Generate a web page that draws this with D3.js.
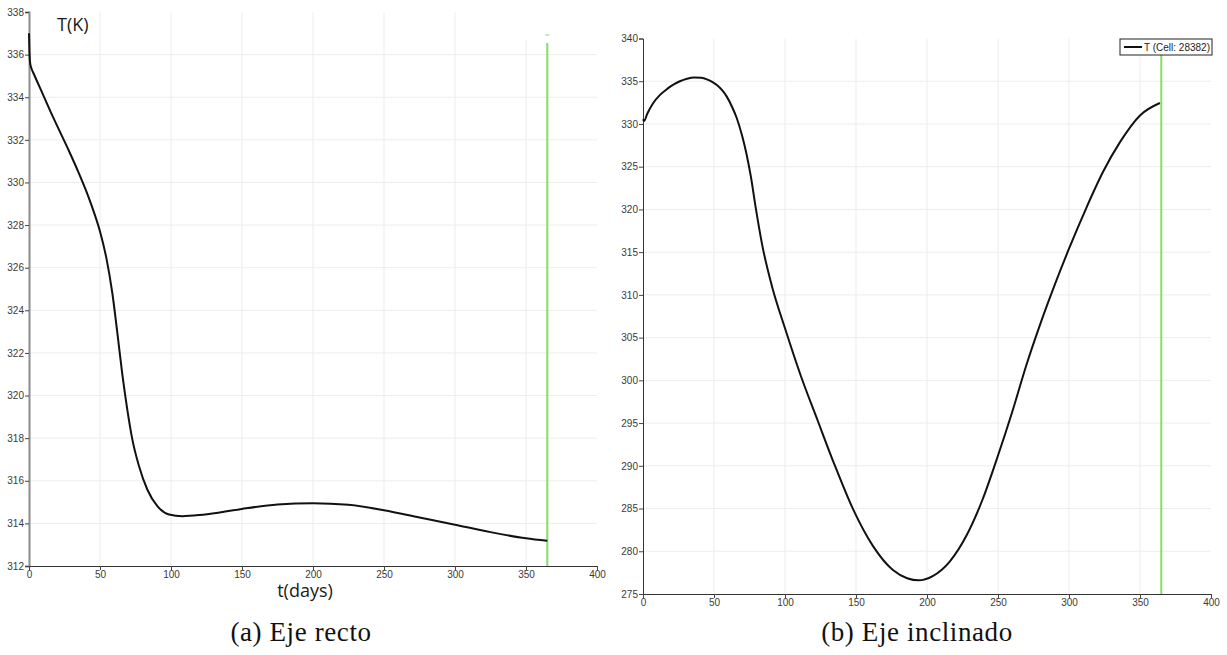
<!DOCTYPE html>
<html>
<head>
<meta charset="utf-8">
<script src="https://cdn.jsdelivr.net/npm/d3@7"></script>
<style>
  body { margin: 0; background: #fff; }
  svg { display: block; }
  .tick text { font-family: "Liberation Sans", Arial, sans-serif; font-size: 10px; fill: #3a3a3a; }
</style>
</head>
<body>
<div id="chart"></div>
<script>
// Left panel: straight axis (Eje recto)
const daysA = [0, 0.3, 0.8, 2, 3, 8, 15, 22, 28, 35, 42, 46, 50, 54.5, 58.7, 62.2, 65.7, 69.2, 72.8, 77.5, 83.3, 90.4, 98.6, 108, 120, 135, 150, 175, 200, 225, 250, 275, 300, 325, 350, 365];
const tempA = [337.0, 336.2, 335.6, 335.3, 335.15, 334.4, 333.35, 332.35, 331.5, 330.45, 329.3, 328.55, 327.7, 326.45, 324.8, 322.95, 321.0, 319.35, 317.93, 316.68, 315.59, 314.81, 314.42, 314.34, 314.39, 314.52, 314.68, 314.89, 314.95, 314.87, 314.62, 314.28, 313.94, 313.59, 313.3, 313.18];

// Right panel: inclined axis (Eje inclinado)
const daysB = [0, 0.8, 3, 7, 12, 17, 22, 26, 31, 36, 41, 45, 49, 52, 56, 59, 63, 66, 70, 73, 76, 79, 84, 91, 100, 111, 123, 134, 148, 162, 176, 186, 194, 204, 216, 228, 239, 250, 260, 270, 280, 290, 300, 312, 324, 336, 350, 364];
const tempB = [330.55, 330.35, 331.2, 332.4, 333.4, 334.1, 334.65, 335.0, 335.3, 335.45, 335.4, 335.22, 334.9, 334.55, 333.9, 333.2, 331.9, 330.7, 328.5, 326.4, 323.8, 320.6, 315.8, 310.9, 306.1, 300.6, 295.3, 290.5, 284.9, 280.6, 277.8, 276.85, 276.6, 277.1, 278.8, 281.9, 286.0, 291.2, 296.3, 301.8, 306.7, 311.2, 315.4, 320.1, 324.4, 327.9, 331.0, 332.45];

const xTicks = [0, 50, 100, 150, 200, 250, 300, 350, 400];
const yTicksA = d3.range(312, 339, 2);
const yTicksB = d3.range(275, 341, 5);
const markerDay = 365;
const legendLabel = 'T (Cell: 28382)';

const W = 1227, H = 655;
const svg = d3.select('#chart').append('svg').attr('width', W).attr('height', H);

function panel(cfg) {
  const x = d3.scaleLinear().domain([0, 400]).range(cfg.xr);
  const y = d3.scaleLinear().domain(cfg.yd).range(cfg.yr);
  const g = svg.append('g');

  // grid
  g.append('g').selectAll('line')
    .data(xTicks.filter(d => d > 0 && d < 400))
    .join('line')
    .attr('x1', d => x(d)).attr('x2', d => x(d))
    .attr('y1', d => (cfg.gridTop && d >= 350) ? cfg.gridTop : cfg.yr[1])
    .attr('y2', cfg.yr[0])
    .attr('stroke', '#ededed').attr('stroke-width', 1);
  g.append('g').selectAll('line')
    .data(cfg.yTicks.slice(1, -1))
    .join('line')
    .attr('x1', cfg.xr[0]).attr('x2', cfg.xr[1])
    .attr('y1', d => y(d)).attr('y2', d => y(d))
    .attr('stroke', '#ededed').attr('stroke-width', 1);

  // axes
  const ya = g.append('g').attr('transform', `translate(${cfg.xr[0]},0)`)
    .call(d3.axisLeft(y).tickValues(cfg.yTicks).tickFormat(d3.format('d')).tickSize(4).tickPadding(1));
  ya.select('.domain').attr('stroke', cfg.yAxisColor).attr('stroke-width', cfg.yAxisWidth);
  ya.selectAll('.tick line').attr('stroke', '#444');

  const xa = g.append('g').attr('transform', `translate(0,${cfg.yr[0]})`)
    .call(d3.axisBottom(x).tickValues(xTicks).tickSize(4).tickPadding(1));
  xa.select('.domain').attr('stroke', '#333');
  xa.selectAll('.tick line').attr('stroke', '#444');

  // marker line at day 365
  g.append('line')
    .attr('x1', x(markerDay)).attr('x2', x(markerDay))
    .attr('y1', cfg.markerTop).attr('y2', cfg.yr[0])
    .attr('stroke', '#86dc64').attr('stroke-width', 2);

  // series
  const line = d3.line().x(d => x(d[0])).y(d => y(d[1])).curve(d3.curveMonotoneX);
  g.append('path')
    .datum(cfg.days.map((d, i) => [d, cfg.temp[i]]))
    .attr('d', line)
    .attr('fill', 'none').attr('stroke', '#111').attr('stroke-width', 2);

  return { x, y, g };
}

const A = panel({
  xr: [29, 597], yr: [566, 12], yd: [312, 338], yTicks: yTicksA,
  days: daysA, temp: tempA, yAxisColor: '#8c8c8c', yAxisWidth: 2,
  markerTop: 43, gridTop: 40
});
A.g.append('line').attr('x1', A.x(markerDay) - 2).attr('x2', A.x(markerDay) + 2)
  .attr('y1', 35).attr('y2', 35).attr('stroke', '#86dc64').attr('stroke-width', 1);
A.g.append('text').attr('x', 57).attr('y', 31)
  .attr('font-family', '"Open Sans", sans-serif').attr('font-size', 18).attr('fill', '#1a1a1a')
  .text('T(K)');
A.g.append('text').attr('x', 305).attr('y', 597).attr('text-anchor', 'middle')
  .attr('font-family', '"Open Sans", sans-serif').attr('font-size', 18).attr('fill', '#1a1a1a')
  .text('t(days)');

const B = panel({
  xr: [643, 1211], yr: [594, 38.5], yd: [275, 340], yTicks: yTicksB,
  days: daysB, temp: tempB, yAxisColor: '#333', yAxisWidth: 1,
  markerTop: 55
});

// legend
const leg = B.g.append('g').attr('transform', 'translate(1120,39)');
leg.append('rect').attr('width', 92).attr('height', 16)
  .attr('fill', '#fff').attr('stroke', '#222').attr('stroke-width', 1);
leg.append('line').attr('x1', 4).attr('x2', 22).attr('y1', 8).attr('y2', 8)
  .attr('stroke', '#111').attr('stroke-width', 2);
leg.append('text').attr('x', 24).attr('y', 11.5)
  .attr('font-family', '"Liberation Sans", Arial, sans-serif').attr('font-size', 10).attr('fill', '#222')
  .text(legendLabel);

// captions
const captions = [
  { text: '(a) Eje recto', x: 301 },
  { text: '(b) Eje inclinado', x: 917 }
];
svg.append('g').selectAll('text').data(captions).join('text')
  .attr('x', d => d.x).attr('y', 641).attr('text-anchor', 'middle')
  .attr('font-family', '"Liberation Serif", serif').attr('font-size', 27)
  .attr('letter-spacing', 0.6).attr('fill', '#111')
  .text(d => d.text);
</script>
</body>
</html>
